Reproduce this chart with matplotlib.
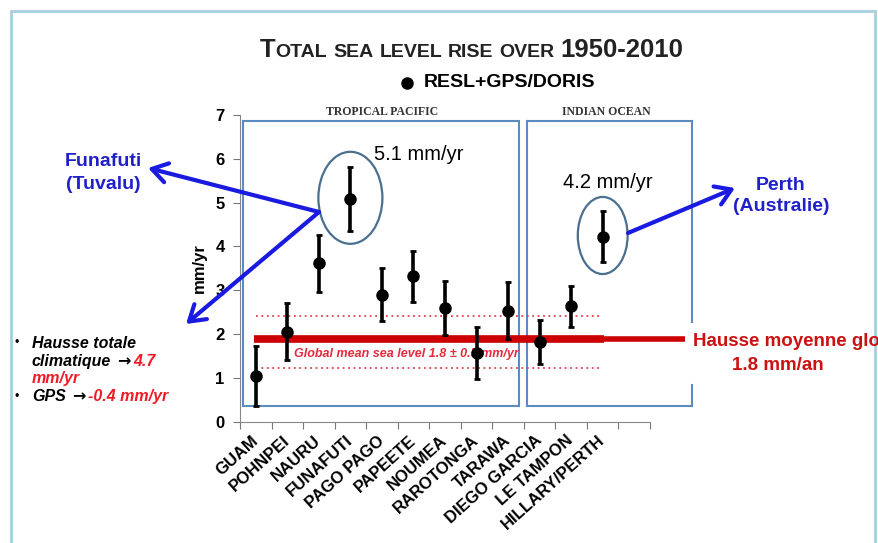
"""Total sea level rise over 1950-2010, tide gauges corrected with GPS/DORIS."""

import matplotlib
matplotlib.use("Agg")
import matplotlib.pyplot as plt
from matplotlib.patches import Ellipse, Rectangle, FancyArrowPatch
from matplotlib.lines import Line2D

# ---- data ----
stations = ["GUAM", "POHNPEI", "NAURU", "FUNAFUTI", "PAGO PAGO", "PAPEETE",
            "NOUMEA", "RAROTONGA", "TARAWA", "DIEGO GARCIA", "LE TAMPON",
            "HILLARY/PERTH"]
rates = [1.04, 2.05, 3.62, 5.08, 2.90, 3.32, 2.60, 1.56, 2.53, 1.81, 2.63, 4.22]
errors = [0.68, 0.65, 0.65, 0.73, 0.60, 0.58, 0.62, 0.59, 0.65, 0.50, 0.47, 0.58]

yticks = [0, 1, 2, 3, 4, 5, 6, 7]
gmsl_line = 1.88
gmsl_band = [1.22, 2.42]

W, H = 879, 543
BLUE = "#1a1ae0"
RED = "#cc0000"
BOX = "#5b8cc0"

plt.rcParams["font.family"] = ["Liberation Sans", "DejaVu Sans"]


def fx(x):
    return x / W


def fy(y):
    return 1 - y / H


fig = plt.figure(figsize=(W / 100, H / 100), dpi=100)
ax = fig.add_axes([fx(240), fy(421.7), fx(650) - fx(240), fy(115) - fy(421.7)])

x = list(range(len(stations)))
ax.errorbar(x, rates, yerr=errors, fmt="o", color="black", ms=8,
            elinewidth=2.6, capsize=2.5, capthick=2, zorder=5)

# global mean sea level line + band
ax.plot([-0.05, 11.05], [gmsl_line, gmsl_line], color=RED, lw=5.5,
        solid_capstyle="butt", zorder=3)
ax.plot([11.0, 13.6], [gmsl_line, gmsl_line], color=RED, lw=4,
        solid_capstyle="butt", zorder=3, clip_on=False)
for v in gmsl_band:
    ax.plot([0, 10.95], [v, v], color="#e04050", lw=1.3, ls=(0, (1, 2)), zorder=2)
ax.text(1.2, gmsl_line - 0.33,
        "Global mean sea level 1.8 \u00b1 0.5 mm/yr", color="#e8283c",
        fontsize=9, fontweight="bold", style="italic", va="center", zorder=4)

# region boxes
ax.add_patch(Rectangle((-0.41, 0.36), 8.75, 6.51, fill=False, ec=BOX, lw=1.5,
                       zorder=1))
x0, x1, y0, y1 = 8.59, 13.82, 0.36, 6.87
for xs, ys in [([x0, x1], [y0, y0]), ([x0, x1], [y1, y1]), ([x0, x0], [y0, y1]),
               ([x1, x1], [y1, 2.28]), ([x1, x1], [0.84, y0])]:
    ax.plot(xs, ys, color=BOX, lw=1.5, clip_on=False, zorder=1)
ax.text(4.0, 7.07, "TROPICAL PACIFIC", family=["Liberation Serif", "DejaVu Serif"],
        fontweight="bold", fontsize=8.5, color="#333333", ha="center", va="center")
ax.text(11.1, 7.07, "INDIAN OCEAN", family=["Liberation Serif", "DejaVu Serif"],
        fontweight="bold", fontsize=8.5, color="#333333", ha="center", va="center",
        clip_on=False)

# circled stations
ax.add_patch(Ellipse((3, rates[3] + 0.03), 2.03, 2.1, fill=False, ec="#4a6f8f",
                     lw=1.6, zorder=4))
ax.add_patch(Ellipse((11, rates[11] + 0.03), 1.58, 1.76, fill=False, ec="#4a6f8f",
                     lw=1.6, zorder=4, clip_on=False))
ax.text(3.75, 6.1, "5.1 mm/yr", fontsize=14.5, va="center", ha="left")
ax.text(9.75, 5.45, "4.2 mm/yr", fontsize=14.5, va="center", ha="left")

# axes styling
ax.set_xlim(-0.5, 12.5)
ax.set_ylim(0, 7)
ax.set_yticks(yticks)
ax.set_yticklabels([str(t) for t in yticks], fontweight="bold", fontsize=12)
ax.set_xticks([i - 0.5 for i in range(len(stations) + 2)])
ax.set_xticklabels([])
ax.set_xticks(x, minor=True)
ax.set_xticklabels(stations, minor=True, rotation=42, ha="right", va="center",
                   rotation_mode="anchor", fontweight="bold", fontsize=12)
ax.tick_params(axis="x", which="minor", length=0, pad=12)
ax.tick_params(axis="x", which="major", length=5, color="#777777")
ax.tick_params(axis="y", length=5, color="#777777", pad=6)
for s in ["top", "right"]:
    ax.spines[s].set_visible(False)
for s in ["left", "bottom"]:
    ax.spines[s].set_color("#888888")
ax.set_ylabel("mm/yr", fontweight="bold", fontsize=12, labelpad=6)
ax.patch.set_alpha(0)

# slide frame
fig.add_artist(Rectangle((fx(11), fy(560)), fx(875) - fx(11), fy(11) - fy(560),
                         transform=fig.transFigure, fill=False, ec="#a8cfe0",
                         lw=2))

renderer = fig.canvas.get_renderer()


def run_text(xp, yp, parts, **kw):
    """Place text pieces one after the other on a baseline (pixel coords)."""
    for s, props in parts:
        props = dict(props)
        gap = props.pop("gap", 0)
        xp += gap
        t = fig.text(fx(xp), fy(yp), s, va="baseline", ha="left", **kw, **props)
        xp += t.get_window_extent(renderer=renderer).width


# title in small caps
run_text(260, 57, [("T", dict(fontsize=18.5)),
                   ("OTAL", dict(fontsize=14)),
                   ("SEA", dict(fontsize=14, gap=6)),
                   ("LEVEL", dict(fontsize=14, gap=6)),
                   ("RISE", dict(fontsize=14, gap=6)),
                   ("OVER", dict(fontsize=14, gap=6)),
                   ("1950-2010", dict(fontsize=18.5, gap=6))],
         fontweight="bold", color="#222222")
fig.add_artist(Line2D([fx(407)], [fy(83)], marker="o", ms=8, color="black",
                      transform=fig.transFigure))
fig.text(fx(424), fy(83), "RESL+GPS/DORIS", fontsize=14, fontweight="bold",
         va="center", ha="left")

# blue callouts
fig.text(fx(103), fy(173), "Funafuti\n(Tuvalu)", color="#2020c8", fontsize=14,
         fontweight="bold", ha="center", va="center", linespacing=1.45)
fig.text(fx(781), fy(196), "Perth\n(Australie)", color="#2020c8", fontsize=14,
         fontweight="bold", ha="center", va="center", linespacing=1.35)
arrow = dict(arrowstyle="->,head_length=0.55,head_width=0.35", color=BLUE, lw=3,
             shrinkA=0, shrinkB=0, mutation_scale=20)
for tip, tail in [((148, 168), (319, 212)), ((186, 324), (319, 212)),
                  ((735, 188), (628, 233))]:
    fig.add_artist(FancyArrowPatch(
        (fx(tail[0]), fy(tail[1])), (fx(tip[0]), fy(tip[1])),
        transform=fig.transFigure, **arrow))

# side notes
note = dict(fontsize=11.5, fontweight="bold", style="italic")
arr = dict(family=["DejaVu Sans"], fontsize=11.5, fontweight="bold")
fig.text(fx(15), fy(343), "\u2022", fontsize=9, va="center")
fig.text(fx(32), fy(343), "Hausse totale", va="center", **note)
run_text(32, 366, [("climatique", dict(**note)),
                   ("\u2192", dict(gap=6, **arr)),
                   ("4.7", dict(gap=3, color="#ee1c24", **note))])
fig.text(fx(32), fy(379), "mm/yr", va="center", color="#ee1c24", **note)
fig.text(fx(15), fy(397), "\u2022", fontsize=9, va="center")
run_text(32, 401, [("GPS", dict(**note)),
                   ("\u2192", dict(gap=6, **arr)),
                   ("-0.4 mm/yr", dict(gap=3, color="#ee1c24", **note))])

fig.text(fx(693), fy(341), "Hausse moyenne glo", color="#cc1111",
         fontsize=13.5, fontweight="bold", va="center", ha="left")
fig.text(fx(778), fy(365), "1.8 mm/an", color="#cc1111", fontsize=13.5,
         fontweight="bold", va="center", ha="center")

fig.savefig("out.png", dpi=100)
